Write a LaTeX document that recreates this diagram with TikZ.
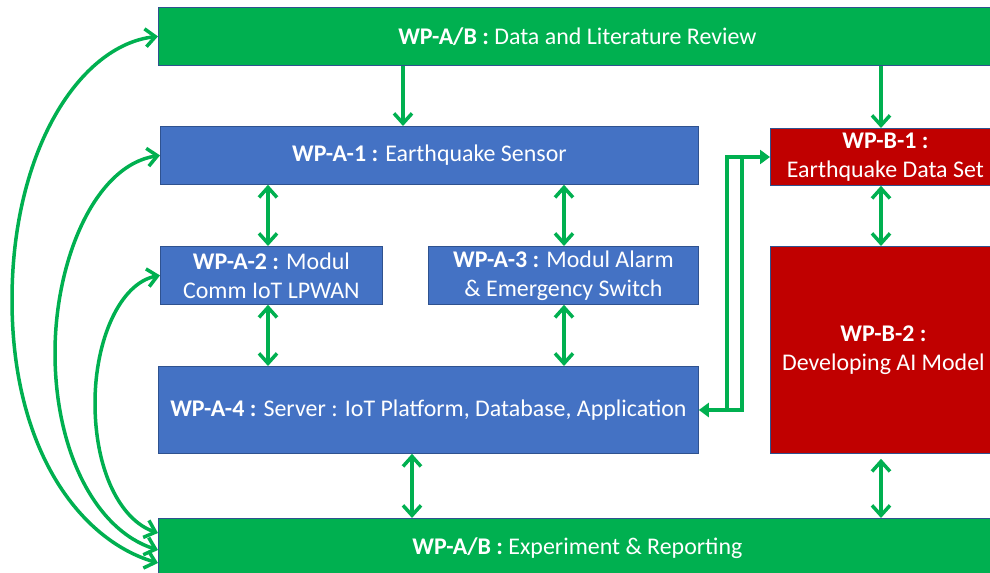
\documentclass[tikz,border=0pt]{standalone}
\usepackage{fontspec}
\setmainfont{Carlito}
\usetikzlibrary{arrows.meta,calc}
\definecolor{gr}{HTML}{00B050}
\definecolor{bl}{HTML}{4472C4}
\definecolor{rd}{HTML}{C00000}
\definecolor{bd}{HTML}{2F528F}
\begin{document}
\begin{tikzpicture}[x=1bp,y=-1bp,
  box/.style={draw=bd, line width=0.8bp, text=white, align=center, inner sep=0pt, anchor=north west,
    font=\fontsize{24}{29}\selectfont},
  conn/.style={draw=gr, line width=3.5bp},
]
\useasboundingbox (0,0) rectangle (990,573);
\clip (0,0) rectangle (990,573);
\tikzset{chev/.tip={Straight Barb[length=10bp,width=18bp]}, tri/.tip={Triangle[length=10bp,width=14bp]}}
% boxes
\node[box, fill=gr, minimum width=838bp, minimum height=58bp] (top) at (158,7) {\textbf{WP-A/B :} Data and Literature Review};
\node[box, fill=bl, minimum width=538bp, minimum height=58bp] (a1) at (160,126) {\textbf{WP-A-1 :} Earthquake Sensor};
\node[box, fill=rd, minimum width=230bp, minimum height=57bp] (b1) at (770,128) {\textbf{WP-B-1 :}\\Earthquake Data Set};
\node[box, fill=bl, minimum width=222bp, minimum height=58bp] (a2) at (160,246) {\textbf{WP-A-2 :} Modul\\Comm IoT LPWAN};
\node[box, fill=bl, minimum width=270bp, minimum height=58bp] (a3) at (428,246) {\textbf{WP-A-3 :} Modul Alarm\\\& Emergency Switch};
\node[box, fill=rd, minimum width=226bp, minimum height=207bp] (b2) at (770,246) {\textbf{WP-B-2 :}\\Developing AI Model};
\node[box, fill=bl, minimum width=540bp, minimum height=87bp] (a4) at (158,366) {\textbf{WP-A-4 :} Server : IoT Platform, Database, Application};
\node[box, fill=gr, minimum width=838bp, minimum height=60bp] (bot) at (158,518) {\textbf{WP-A/B :} Experiment \& Reporting};
% vertical connectors
\draw[conn, -{chev}] (top.south -| 403,0) -- (a1.north -| 403,0);
\draw[conn, -{chev}] (top.south -| 881,0) -- (b1.north -| 881,0);
\draw[conn, {chev}-{chev}] (a1.south -| 268,0) -- (a2.north -| 268,0);
\draw[conn, {chev}-{chev}] (a1.south -| 564,0) -- (a3.north -| 564,0);
\draw[conn, {chev}-{chev}] (a2.south -| 268,0) -- (a4.north -| 268,0);
\draw[conn, {chev}-{chev}] (a3.south -| 564,0) -- (a4.north -| 564,0);
\draw[conn, {chev}-{chev}] (b1.south -| 881,0) -- (b2.north -| 881,0);
\draw[conn, {chev}-{chev}] (a4.south -| 412,0) -- (bot.north -| 412,0);
\draw[conn, {chev}-{chev}] ($(b2.south -| 881,0)+(0,5)$) -- (bot.north -| 881,0);
% elbow double connector
\draw[conn, shorten <=8bp, shorten >=8bp] (a4.east |- 0,410) -| (727,157) -- (b1.west |- 0,157);
\draw[conn, {tri}-{tri}] (a4.east |- 0,410) -| (742,157) -- (b1.west |- 0,157);
% left curves
\draw[conn, {chev}-{chev}] (top.west) .. controls (80,45) and (12,150) .. (12,300) .. controls (12,450) and (80,540) .. (bot.west |- 0,563);
\draw[conn, {chev}-{chev}] (a1.west) .. controls (95,165) and (55,260) .. (55,353) .. controls (55,450) and (95,530) .. (bot.west |- 0,550);
\draw[conn, {chev}-{chev}] (a2.west) .. controls (120,283) and (95,340) .. (95,403) .. controls (95,470) and (120,520) .. (bot.west |- 0,533);
\end{tikzpicture}
\end{document}
